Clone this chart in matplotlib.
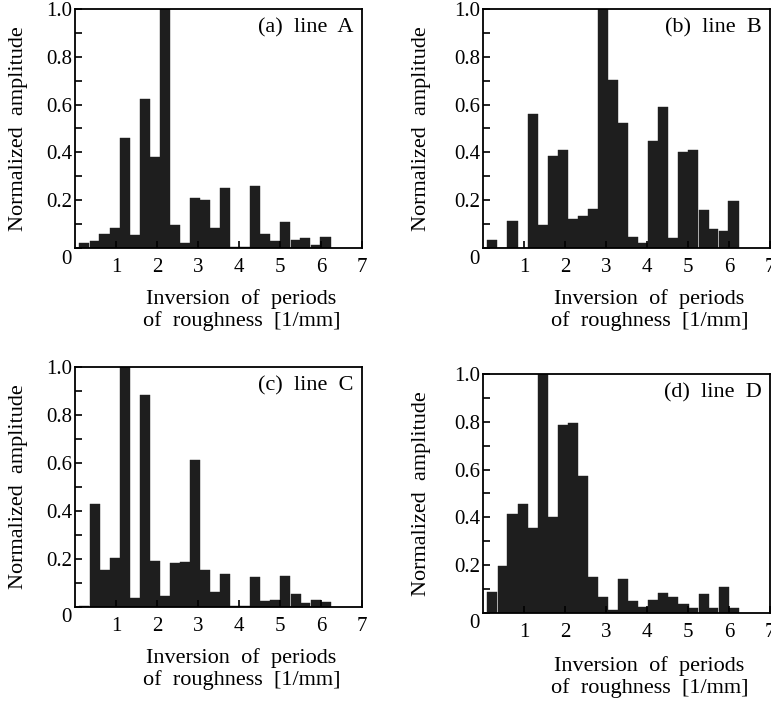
import matplotlib
matplotlib.use('Agg')
import matplotlib.pyplot as plt
from matplotlib.ticker import MultipleLocator

plt.rcParams['font.family'] = ['Liberation Serif', 'DejaVu Serif']

# spectral bins of the roughness profile [1/mm]
freq = [0.23, 0.48, 0.72, 0.97, 1.21, 1.46, 1.70, 1.95, 2.19, 2.44, 2.68, 2.93, 3.17,
        3.42, 3.66, 3.91, 4.15, 4.40, 4.64, 4.89, 5.13, 5.38, 5.62, 5.87, 6.11]
bin_width = 0.245

amp_a = [0.021, 0.031, 0.060, 0.084, 0.460, 0.054, 0.623, 0.379, 1.000, 0.098, 0.022, 0.208, 0.202,
         0.084, 0.251, 0.004, 0.004, 0.261, 0.059, 0.028, 0.109, 0.032, 0.042, 0.013, 0.045]
amp_b = [0.032, 0.0, 0.113, 0.0, 0.562, 0.098, 0.386, 0.411, 0.120, 0.135, 0.163, 1.000, 0.703,
         0.522, 0.045, 0.022, 0.449, 0.589, 0.042, 0.402, 0.410, 0.158, 0.080, 0.073, 0.197]
amp_c = [0.006, 0.428, 0.156, 0.204, 1.000, 0.038, 0.885, 0.190, 0.044, 0.185, 0.186, 0.611, 0.153,
         0.063, 0.138, 0.003, 0.006, 0.126, 0.024, 0.031, 0.129, 0.053, 0.017, 0.031, 0.021]
amp_d = [0.086, 0.198, 0.416, 0.457, 0.355, 1.000, 0.401, 0.786, 0.794, 0.572, 0.152, 0.067, 0.013,
         0.142, 0.049, 0.026, 0.056, 0.082, 0.067, 0.038, 0.019, 0.078, 0.019, 0.109, 0.022]

titles = ['(a)  line  A', '(b)  line  B', '(c)  line  C', '(d)  line  D']
xlabel = 'Inversion  of  periods\nof  roughness  [1/mm]'
ylabel = 'Normalized  amplitude'

W, H = 771, 701
fig = plt.figure(figsize=(W / 100, H / 100), dpi=100)

# axes boxes in pixels: left, top, right, bottom
boxes = [(75, 9, 362, 248), (483, 9, 770, 248),
         (75, 367, 362, 607), (483, 374, 770, 613)]
xlab_y = [-0.17, -0.17, -0.17, -0.18]
ylab_x = [-0.165, -0.18, -0.165, -0.18]

for amp, title, box, xly, ylx in zip([amp_a, amp_b, amp_c, amp_d], titles, boxes, xlab_y, ylab_x):
    l, t, r, b = box
    ax = fig.add_axes([l / W, (H - b) / H, (r - l) / W, (b - t) / H])
    ax.bar(freq, amp, width=bin_width, color='#1e1e1e', edgecolor='#1e1e1e',
           linewidth=0.3, align='center')
    ax.set_xlim(0, 7)
    ax.set_ylim(0, 1.0)

    ax.set_xticks(range(1, 8))
    ax.set_xticklabels([str(i) for i in range(1, 8)])
    ax.set_yticks([0.2, 0.4, 0.6, 0.8, 1.0])
    ax.set_yticklabels(['0.2', '0.4', '0.6', '0.8', '1.0'])
    ax.yaxis.set_minor_locator(MultipleLocator(0.1))
    ax.tick_params(axis='both', which='both', direction='in', length=5, width=1.2,
                   labelsize=15, top=False, right=False)
    ax.tick_params(axis='x', pad=7)
    ax.tick_params(axis='y', pad=2)
    for sp in ax.spines.values():
        sp.set_linewidth(1.3)

    # shared origin label
    ax.annotate('0', xy=(0, 0), xycoords='axes fraction', xytext=(-9, -11),
                textcoords='offset pixels', ha='center', va='center', fontsize=15)

    ax.text(0.97, 0.92, title, transform=ax.transAxes, ha='right', va='center', fontsize=16)

    ax.set_ylabel(ylabel, fontsize=16)
    ax.yaxis.set_label_coords(ylx, 0.5)
    ax.set_xlabel(xlabel, fontsize=16, ha='center', va='top', linespacing=1.15)
    ax.xaxis.set_label_coords(0.58, xly)

fig.savefig('out.png', dpi=100)
